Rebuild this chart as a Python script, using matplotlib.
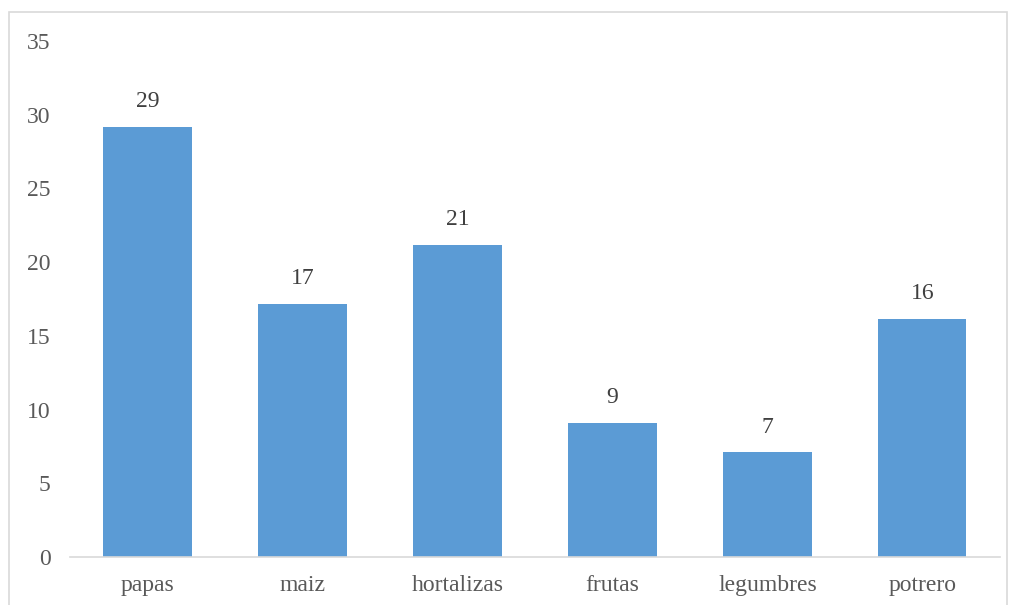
import matplotlib.pyplot as plt
from matplotlib.patches import Rectangle

categories = ['papas', 'maiz', 'hortalizas', 'frutas', 'legumbres', 'potrero']
values = [29.2, 17.15, 21.2, 9.1, 7.1, 16.15]
yticks = [0, 5, 10, 15, 20, 25, 30, 35]

plt.rcParams['font.family'] = ['Liberation Serif', 'DejaVu Serif']

fig = plt.figure(figsize=(10.14, 6.05), dpi=100)
ax = fig.add_axes([0.069, 0.0793, 0.917, 0.8528])

x = range(len(categories))
bars = ax.bar(x, values, width=0.57, color='#5b9bd5', zorder=2)

for b, v in zip(bars, values):
    ax.text(b.get_x() + b.get_width() / 2, v + 1.0, '%d' % round(v),
            ha='center', va='bottom', fontsize=17, color='#404040')

ax.set_xlim(-0.5, len(categories) - 0.5)
ax.set_ylim(0, 35)
ax.set_yticks(yticks)
ax.set_xticks(list(x))
ax.set_xticklabels(categories)
ax.tick_params(axis='both', length=0, labelsize=17, colors='#595959')
ax.tick_params(axis='y', pad=14)
ax.tick_params(axis='x', pad=13)

for s in ['top', 'right', 'left']:
    ax.spines[s].set_visible(False)
ax.spines['bottom'].set_color('#d9d9d9')
ax.spines['bottom'].set_linewidth(1.2)

# outer chart border
fig.patches.append(Rectangle((9 / 1014, -0.01), 998 / 1014, 1 - 12 / 605 + 0.01,
                             transform=fig.transFigure, fill=False,
                             edgecolor='#d9d9d9', linewidth=1.2))

fig.savefig('out.png', dpi=100)
